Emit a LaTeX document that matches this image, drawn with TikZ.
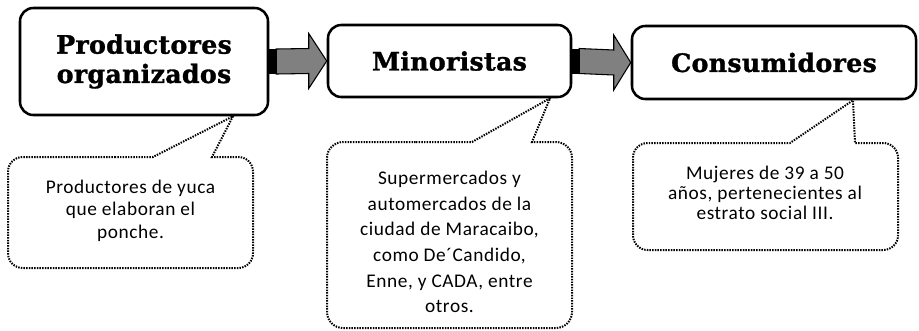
\documentclass[tikz,border=0pt]{standalone}
\usepackage{fontspec}
\setmainfont{Carlito}[LetterSpace=3]
\newfontfamily\titlefont{DejaVu Serif}[BoldFeatures={FakeBold=1.2}, LetterSpace=1]
\usetikzlibrary{calc}
\definecolor{arrowgray}{RGB}{128,128,128}
\tikzset{
  mainbox/.style={draw, line width=1.9pt, rounded corners=10pt, fill=white, align=center,
    font=\titlefont\bfseries\fontsize{19}{22}\selectfont, inner sep=0pt},
  callout/.style={draw, line width=1.5pt, dash pattern=on 1.1pt off 0.9pt},
  ctext/.style={align=center, inner sep=0pt},
  arrowshape/.style={draw, line width=0.8pt, fill=arrowgray, line join=miter},
}
\begin{document}
\begin{tikzpicture}[x=0.75pt,y=-0.75pt]
\useasboundingbox (0,0) rectangle (919,330);

% main boxes
\node[mainbox, minimum width=186pt, minimum height=80.25pt] (b1) at (144,61.5) {Productores\\organizados};
\node[mainbox, minimum width=182.25pt, minimum height=54pt] (b2) at (449.5,61) {Minoristas};
\node[mainbox, minimum width=213pt, minimum height=54.75pt] (b3) at (774,62.5) {Consumidores};

% block arrows
\fill ($(b1.east)+(0,-12.5)$) rectangle ($(b1.east)+(7,12.5)$);
\draw[arrowshape] ($(b1.east)+(7,-12.5)$) -- ($(b2.west)+(-18,-12.5)$) -- ($(b2.west)+(-18,-27.5)$)
  -- (b2.west) -- ($(b2.west)+(-18,27.5)$) -- ($(b2.west)+(-18,12.5)$) -- ($(b1.east)+(7,12.5)$) -- cycle;
\fill ($(b2.east)+(0,-12.5)$) rectangle ($(b2.east)+(7,12.5)$);
\draw[arrowshape] ($(b2.east)+(7,-12.5)$) -- ($(b3.west)+(-17,-12.5)$) -- ($(b3.west)+(-17,-27.5)$)
  -- (b3.west) -- ($(b3.west)+(-17,27.5)$) -- ($(b3.west)+(-17,12.5)$) -- ($(b2.east)+(7,12.5)$) -- cycle;

% callout tips
\coordinate (t1) at ($(b1.south)+(89,0)$);
\coordinate (t2) at ($(b2.south)+(100.5,0)$);
\coordinate (t3) at ($(b3.south)+(79,0)$);

% callouts
\draw[callout, sharp corners] (100,157) -- (153,157) -- (t1) -- (212,157) [rounded corners=11pt]
  -- (253,157) -- (253,268) -- (8,268) -- (8,157) -- cycle;
\draw[callout, sharp corners] (400,142) -- (472,142) -- (t2) -- (532,142) [rounded corners=12pt]
  -- (572,142) -- (572,328) -- (327,328) -- (327,142) -- cycle;
\draw[callout, sharp corners] (700,143) -- (790,143) -- (t3) -- (855,143) [rounded corners=11pt]
  -- (898,143) -- (898,250) -- (633,250) -- (633,143) -- cycle;

% callout texts
\node[ctext, font=\fontsize{14.5}{16.9}\selectfont] (c1) at (130.5,210.5) {Productores de yuca\\que elaboran el\\ponche.};
\node[ctext, font=\fontsize{14.5}{19.2}\selectfont] (c2) at (449.5,242) {Supermercados y\\automercados de la\\ciudad de Maracaibo,\\como De´Candido,\\Enne, y CADA, entre\\otros.};
\node[ctext, font=\fontsize{14.5}{15}\selectfont] (c3) at (765,192.5) {Mujeres de 39 a 50\\años, pertenecientes al\\estrato social III.};
\end{tikzpicture}
\end{document}
